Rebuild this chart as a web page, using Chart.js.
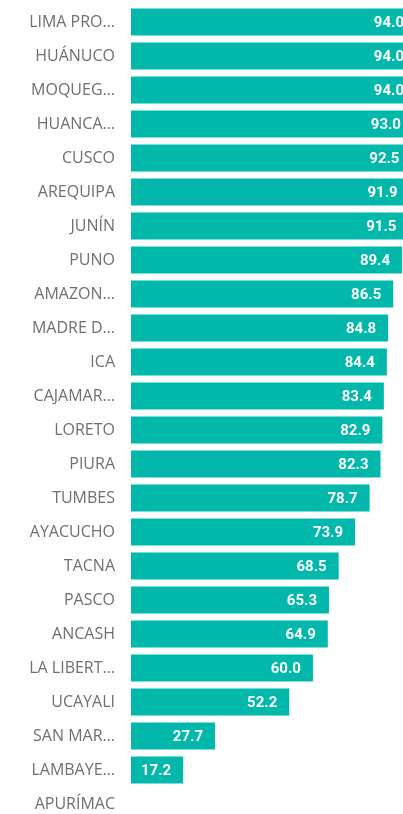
<!DOCTYPE html>
<html>
<head>
<meta charset="utf-8">
<script src="https://cdn.jsdelivr.net/npm/chart.js@4/dist/chart.umd.min.js"></script>
<style>
  html, body { margin: 0; padding: 0; background: #fff; overflow: hidden; width: 403px; height: 814px; }
  #wrap { position: relative; width: 416px; height: 821px; }
</style>
</head>
<body>
<div id="wrap"><canvas id="c"></canvas></div>
<script>
const categories = ["LIMA PRO…", "HUÁNUCO", "MOQUEG…", "HUANCA…", "CUSCO", "AREQUIPA", "JUNÍN", "PUNO", "AMAZON…", "MADRE D…", "ICA", "CAJAMAR…", "LORETO", "PIURA", "TUMBES", "AYACUCHO", "TACNA", "PASCO", "ANCASH", "LA LIBERT…", "UCAYALI", "SAN MAR…", "LAMBAYE…", "APURÍMAC"];
const values = [94.0, 94.0, 94.0, 93.0, 92.5, 91.9, 91.5, 89.4, 86.5, 84.8, 84.4, 83.4, 82.9, 82.3, 78.7, 73.9, 68.5, 65.3, 64.9, 60.0, 52.2, 27.7, 17.2, null];

const valueLabels = {
  id: 'valueLabels',
  afterDatasetsDraw(chart) {
    const ctx = chart.ctx;
    const meta = chart.getDatasetMeta(0);
    ctx.save();
    ctx.font = 'bold 15px Roboto';
    ctx.fillStyle = '#ffffff';
    ctx.textAlign = 'right';
    ctx.textBaseline = 'middle';
    meta.data.forEach((bar, i) => {
      const v = values[i];
      if (v === null || v === undefined) return;
      ctx.fillText(v.toFixed(1), bar.x - 12, bar.y + 1);
    });
    ctx.restore();
  }
};

new Chart(document.getElementById('c'), {
  type: 'bar',
  data: {
    labels: categories,
    datasets: [{
      data: values,
      backgroundColor: '#01B8AA',
      borderWidth: 0,
      categoryPercentage: 1.0,
      barPercentage: 0.8
    }]
  },
  options: {
    indexAxis: 'y',
    responsive: true,
    maintainAspectRatio: false,
    animation: false,
    layout: { padding: { top: 5, right: 0, bottom: 0, left: 0 } },
    plugins: { legend: { display: false }, tooltip: { enabled: false } },
    scales: {
      x: {
        display: false,
        min: 0,
        max: 94
      },
      y: {
        grid: { display: false, drawTicks: false },
        border: { display: false },
        ticks: {
          color: '#6f6f6f',
          font: { family: 'Open Sans', size: 16 },
          padding: 16,
          autoSkip: false
        },
        afterFit(scale) {
          scale.width = 131;
          scale.paddingTop = 0;
          scale.paddingBottom = 0;
        }
      }
    }
  },
  plugins: [valueLabels]
});
</script>
</body>
</html>
